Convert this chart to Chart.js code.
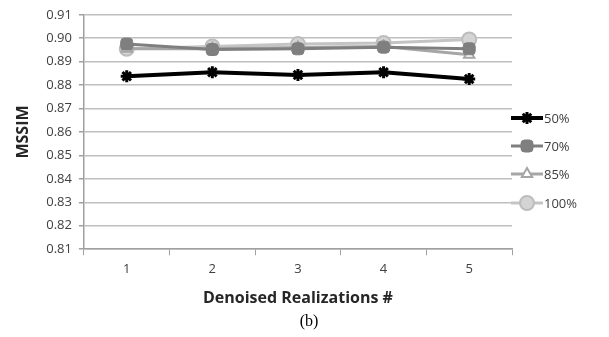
<!DOCTYPE html>
<html>
<head>
<meta charset="utf-8">
<script src="https://cdn.jsdelivr.net/npm/chart.js@4"></script>
<style>
  html, body { margin: 0; padding: 0; background: #fff; }
  #wrap { width: 609px; height: 337px; }
</style>
</head>
<body>
<div id="wrap"><canvas id="ssimChart" width="609" height="337"></canvas></div>
<script>
const realizations = ['1', '2', '3', '4', '5'];
const yTicks = [0.81, 0.82, 0.83, 0.84, 0.85, 0.86, 0.87, 0.88, 0.89, 0.90, 0.91];

const noise50 = [0.8838, 0.8855, 0.8843, 0.8855, 0.8826];
const noise70 = [0.8975, 0.8952, 0.8955, 0.8962, 0.8955];
const noise85 = [0.8955, 0.8955, 0.8960, 0.8965, 0.8930];
const noise100 = [0.8955, 0.8965, 0.8975, 0.8980, 0.8995];

const seriesLabels = ['50%', '70%', '85%', '100%'];
const caption = '(b)';

// legend drawn by hand so it shows line + marker like Excel, plus the caption
const sideLegend = {
    id: 'sideLegend',
    afterDraw(chart) {
        const ctx = chart.ctx;
        const x0 = 533, rows = [118, 146, 174, 203];
        chart.data.datasets.forEach((ds, i) => {
            const y = rows[i];
            ctx.save();
            ctx.strokeStyle = ds.borderColor;
            ctx.lineWidth = ds.borderWidth;
            ctx.beginPath();
            ctx.moveTo(x0 - 22, y);
            ctx.lineTo(x0 + 10, y);
            ctx.stroke();
            ctx.fillStyle = ds.pointBackgroundColor;
            ctx.strokeStyle = ds.pointBorderColor;
            ctx.lineWidth = ds.pointBorderWidth;
            Chart.helpers.drawPoint(ctx, {
                pointStyle: ds.pointStyle, radius: ds.pointRadius, rotation: 0, borderWidth: ds.pointBorderWidth
            }, x0 - 6, y);
            ctx.fillStyle = '#404040';
            ctx.font = '13px "Open Sans", sans-serif';
            ctx.textBaseline = 'middle';
            ctx.fillText(ds.label, x0 + 11, y + 1);
            ctx.restore();
        });
        ctx.save();
        ctx.fillStyle = '#000';
        ctx.font = '16px "Liberation Serif", serif';
        ctx.textAlign = 'center';
        ctx.textBaseline = 'middle';
        ctx.fillText(caption, 309, 322);
        ctx.restore();
    }
};

const ctxEl = document.getElementById('ssimChart');

new Chart(ctxEl, {
    type: 'line',
    data: {
        labels: realizations,
        datasets: [
            {
                label: seriesLabels[0],
                data: noise50,
                borderColor: '#000000',
                borderWidth: 4,
                pointStyle: 'star',
                pointRadius: 6,
                pointBorderWidth: 3,
                pointBorderColor: '#000000',
                pointBackgroundColor: '#000000'
            },
            {
                label: seriesLabels[1],
                data: noise70,
                borderColor: '#7f7f7f',
                borderWidth: 3,
                pointStyle: 'rectRounded',
                pointRadius: 7,
                pointBorderWidth: 1,
                pointBorderColor: '#7f7f7f',
                pointBackgroundColor: '#7f7f7f'
            },
            {
                label: seriesLabels[2],
                data: noise85,
                borderColor: '#a6a6a6',
                borderWidth: 3,
                pointStyle: 'triangle',
                pointRadius: 6,
                pointBorderWidth: 2,
                pointBorderColor: '#a6a6a6',
                pointBackgroundColor: '#ffffff'
            },
            {
                label: seriesLabels[3],
                data: noise100,
                borderColor: '#c4c4c4',
                borderWidth: 3,
                pointStyle: 'circle',
                pointRadius: 7,
                pointBorderWidth: 2,
                pointBorderColor: '#bdbdbd',
                pointBackgroundColor: '#d4d4d4'
            }
        ]
    },
    options: {
        responsive: false,
        animation: false,
        tension: 0,
        layout: { padding: { top: 8, right: 97, left: 10, bottom: 29 } },
        scales: {
            y: {
                min: 0.81,
                max: 0.91,
                afterBuildTicks(axis) { axis.ticks = yTicks.map(v => ({ value: v })); },
                ticks: {
                    color: '#404040',
                    font: { family: '"Open Sans", sans-serif', size: 13 },
                    padding: 7,
                    callback: v => v.toFixed(2)
                },
                grid: { color: '#bfbfbf', lineWidth: 1.5, tickLength: 5, tickColor: '#a0a0a0' },
                border: { color: '#a0a0a0', width: 1.5 },
                title: {
                    display: true,
                    text: 'MSSIM',
                    color: '#262626',
                    font: { family: '"Open Sans", sans-serif', size: 16, weight: 'bold' },
                    padding: { bottom: 6 }
                }
            },
            x: {
                offset: true,
                grid: { offset: true, drawOnChartArea: false, tickLength: 6, color: '#a0a0a0' },
                border: { color: '#a0a0a0', width: 1.5 },
                ticks: {
                    color: '#404040',
                    font: { family: '"Open Sans", sans-serif', size: 13 },
                    padding: 6
                },
                title: {
                    display: true,
                    text: 'Denoised Realizations #',
                    color: '#262626',
                    font: { family: '"Open Sans", sans-serif', size: 16, weight: 'bold' },
                    padding: { top: 6, bottom: 0 }
                }
            }
        },
        plugins: {
            legend: { display: false },
            tooltip: { enabled: false }
        }
    },
    plugins: [sideLegend]
});
</script>
</body>
</html>
